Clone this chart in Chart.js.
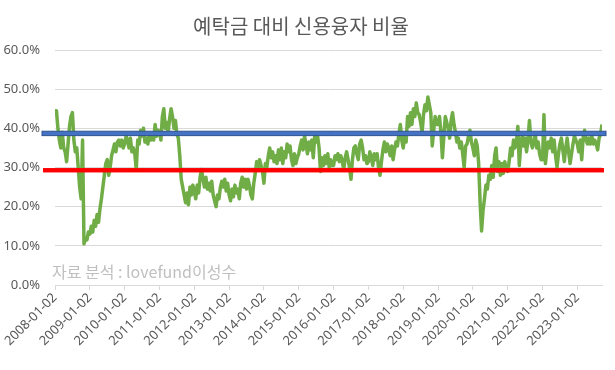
<!DOCTYPE html>
<html><head><meta charset="utf-8">
<script src="https://cdn.jsdelivr.net/npm/chart.js@4.4.0/dist/chart.umd.min.js"></script>
<style>html,body{margin:0;padding:0;background:#fff}</style>
</head><body>
<canvas id="c" width="615" height="370"></canvas>
<script>
const TITLE = '예탁금 대비 신용융자 비율';
const SOURCE = '자료 분석 : lovefund이성수';
const yearTicks = ['2008-01-02','2009-01-02','2010-01-02','2011-01-02','2012-01-02','2013-01-02','2014-01-02','2015-01-02','2016-01-02','2017-01-02','2018-01-02','2019-01-02','2020-01-02','2021-01-02','2022-01-02','2023-01-02'];
const pointsPerYear = 24; // two readings per month
const blueLevel = 38.7;
const redLevel = 29.3;

const y2008 = [44.5,44.5,40,37,35,39,35,34,31.5,36,40.5,43,44,37,34,35,30,25,22,37,10.5,12,11.5,13.5];
const y2009 = [13,15,13.5,16.5,15,18,16,19.5,22,25,28,31,32,28,30,33,34.5,36,34,36.5,37,35.5,37,35];
const y2010 = [36,38,37,35,37.5,34,35,33.5,29.5,37,36,39.5,38,40,36.5,37.5,36,38.5,37,38.5,37,41,38,39.5];
const y2011 = [39,37,43,45,40,41.5,39,42.5,45,43,40,42,38.5,37.5,33,27,25,23,21,23.5,20.5,25,23,25.5];
const y2012 = [24,22,25.5,23.5,27.5,29.5,27,25,27.5,24.5,26,24,26.5,23,21.5,20,23,22,25,26.5,25,27,24,26];
const y2013 = [23,21.5,24.5,22.5,25.5,23.5,24.5,22,26,27.5,25,27,24.5,27,25.5,23,22,26,28.5,31.5,30,32,30.5,29];
const y2014 = [26,31,30,33,35,32.5,34,31.5,33,31,34.5,32,35,31,34,32.5,36,34,35.5,32,30.5,33.5,31,32.5];
const y2015 = [33.5,35.5,37,34.5,38,36,33.5,36.5,34.5,37,32.5,38,36.5,38,35,29,32.5,30.5,33,31,33.5,30,32,30.5];
const y2016 = [30.5,33,32,33.5,31.5,33,31.5,29.5,32.5,34,32,30,27,32,35,35.5,33.5,32,36,37,35,32,33,31];
const y2017 = [31.5,34,32.5,30.5,33.5,32,33.5,30,28,31.5,34.5,36.5,34,36,35,33,35.5,32,34.5,36.5,35.5,38.5,41,37];
const y2018 = [35,38,36.5,43,40.5,44,41,45,43,46.5,44,43.5,41.5,39,43.5,46,44.5,48,46,44,35.5,39.5,43,41];
const y2019 = [41,43,39,32.5,38,43,41.5,40,37.5,42,44,41,39,36.5,37.5,35,36.5,33.5,30,35.5,36,38,39.5,36.5];
const y2020 = [35,33,37,35.5,31,21,13.8,19,22,25.5,24.5,28,27,30.5,27.5,33,35,29,31.5,28,31,28.5,31.5,29.5];
const y2021 = [29,31.5,35,33,37,35,36.5,40.5,30.5,36,38,35.5,37.5,34,37,42,36.5,35,36.5,38.5,35,36.5,33.5,32];
const y2022 = [32,43.5,31,34.5,36.5,35,37.5,34,37,33,30,33.5,36,37.5,34.5,31.5,35,37.5,34,31,33.5,36,38,37];
const y2023 = [36,34,37,32,37.5,39.5,37,36,37.5,36,38,36,37,36,34.5,37.5,38.5,41];

const ratio = [].concat(y2008,y2009,y2010,y2011,y2012,y2013,y2014,y2015,y2016,y2017,y2018,y2019,y2020,y2021,y2022,y2023);
const points = ratio.map((v,i)=>({x:i, y:v}));

const levelLines = {
  id:'levelLines',
  afterDatasetsDraw(chart){
    const {ctx, chartArea:a, scales:{y}} = chart;
    ctx.save();
    const yb = y.getPixelForValue(blueLevel);
    ctx.fillStyle = '#4472C4';
    ctx.fillRect(a.left-13, yb-2.2, a.right-a.left+17, 4.4);
    ctx.strokeStyle = '#2F528F'; ctx.lineWidth = 1;
    ctx.strokeRect(a.left-13, yb-2.2, a.right-a.left+17, 4.4);
    const yr = y.getPixelForValue(redLevel);
    ctx.fillStyle = '#FF0000';
    ctx.fillRect(a.left-12, yr-2.2, a.right-a.left+14, 4.4);
    ctx.restore();
  },
  afterDraw(chart){
    const {ctx, chartArea:a} = chart;
    ctx.save();
    ctx.font = '16px "Noto Sans CJK KR"';
    ctx.fillStyle = '#BFBFBF';
    ctx.textBaseline = 'middle';
    ctx.fillText(SOURCE, a.left-3, a.bottom-13);
    ctx.restore();
  }
};

new Chart(document.getElementById('c'), {
  type:'line',
  data:{datasets:[{data:points, borderColor:'#70AD47', borderWidth:3.5, pointRadius:0, tension:0, fill:false, borderJoinStyle:'round'}]},
  options:{
    responsive:false, animation:false, devicePixelRatio:1,
    layout:{padding:{left:0,right:13,top:6,bottom:0}},
    plugins:{
      legend:{display:false}, tooltip:{enabled:false},
      title:{display:true, text:TITLE, color:'#595959', font:{family:"'Noto Sans CJK KR'", size:20, weight:'normal'}, padding:{top:8,bottom:12}}
    },
    scales:{
      x:{type:'linear', min:0, max:ratio.length-1,
        grid:{drawOnChartArea:false, drawTicks:true, tickLength:5, color:'#D9D9D9'},
        border:{display:true, color:'#D9D9D9'},
        ticks:{stepSize:pointsPerYear, includeBounds:false, autoSkip:false, maxRotation:45, minRotation:45, color:'#595959',
          font:{family:"'Noto Sans'", size:13}, padding:0,
          callback:(v)=> yearTicks[v/pointsPerYear] ?? ''},
        afterFit(s){ s.height = 85; }
      },
      y:{min:0, max:60,
        ticks:{stepSize:10, color:'#595959', font:{family:"'Noto Sans'", size:13}, padding:15, callback:(v)=> v.toFixed(1)+'%'},
        grid:{color:'#D9D9D9', drawTicks:false},
        border:{display:false},
        afterFit(s){ s.width = 55; }
      }
    }
  },
  plugins:[levelLines]
});
</script>
</body></html>
